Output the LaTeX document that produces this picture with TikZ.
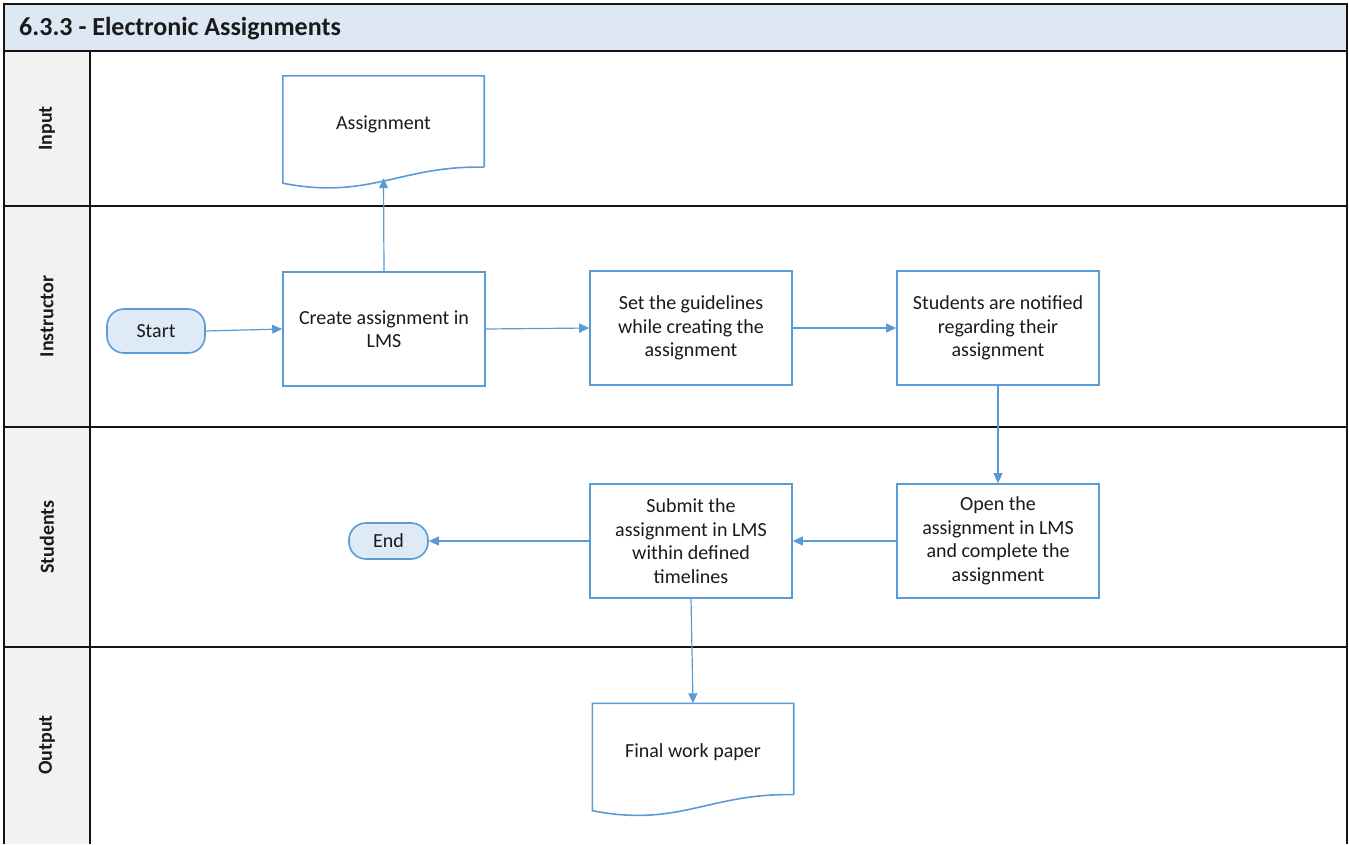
\documentclass[tikz,border=0pt]{standalone}
\usepackage{fontspec}
\setmainfont{Carlito}
\usetikzlibrary{arrows.meta,calc}
\definecolor{flowblue}{HTML}{5B9BD5}
\definecolor{termfill}{HTML}{DEEBF7}
\definecolor{titlefill}{HTML}{DDE8F4}
\definecolor{lanefill}{HTML}{F2F2F2}
\definecolor{inkc}{HTML}{1A1A1A}
\definecolor{framec}{HTML}{141414}
\begin{document}
\begin{tikzpicture}[x=1pt,y=-1pt,
  every node/.style={font=\fontsize{20}{23.5}\selectfont, text=inkc},
  stepbox/.style={draw=flowblue, line width=1.6pt, fill=white,
    minimum width=202pt, minimum height=114pt, align=center, inner sep=0pt,
    execute at begin node={\rule{0pt}{19pt}}},
  termbox/.style={draw=flowblue, line width=1.6pt, fill=termfill,
    rounded corners=17pt, inner sep=0pt},
  docbox/.style={minimum width=201pt, minimum height=91pt, align=center, inner sep=0pt,
    execute at begin node={\rule{0pt}{20pt}}},
  docline/.style={draw=flowblue, line width=1.6pt},
  lanelabel/.style={rotate=90, font=\bfseries\fontsize{20}{24}\selectfont},
  frameline/.style={draw=framec, line width=2pt},
  flow/.style={draw=flowblue, line width=1.2pt, -{Triangle[length=10pt,width=9pt]}}
]
\useasboundingbox (0,0) rectangle (1349,844);

% title band and lane label column
\fill[titlefill] (4,4) rectangle (1347,51);
\fill[lanefill] (4,51) rectangle (90,844);
\node[anchor=west, inner xsep=0pt, font=\bfseries\fontsize{26}{30}\selectfont] (title) at (19,29) {6.3.3 - Electronic Assignments};

% swimlane frame
\draw[frameline] (4,844) -- (4,4) -- (1347,4) -- (1347,844);
\draw[frameline] (4,51) -- (1347,51);
\draw[frameline] (4,206) -- (1347,206);
\draw[frameline] (4,427) -- (1347,427);
\draw[frameline] (4,647) -- (1347,647);
\draw[frameline] (90,51) -- (90,844);

% lane names
\node[lanelabel] (lin) at (47,128.5) {Input};
\node[lanelabel] (lins) at (47,316.5) {Instructor};
\node[lanelabel] (lstu) at (47,537) {Students};
\node[lanelabel] (lout) at (47,745) {Output};

% input document
\node[docbox] (asg) at (383.5,121.5) {Assignment};
\draw[docline] (asg.south east) -- (asg.north east) -- (asg.north west)
  -- ($(asg.south west)+(0,16)$)
  .. controls ($(asg.south west)+(87,33)$) and ($(asg.south east)+(-84,-2)$) .. (asg.south east);
\coordinate (asgin) at ($(asg.south)+(0,11)$);

% instructor steps
\node[termbox, minimum width=98pt, minimum height=44pt] (start) at (156,331) {Start};
\node[stepbox] (create) at (384,329) {Create assignment in\\LMS};
\node[stepbox] (guide) at (691,328) {Set the guidelines\\while creating the\\assignment};
\node[stepbox] (notify) at (998,328) {Students are notified\\regarding their\\assignment};

% student steps
\node[stepbox] (open) at (998,541) {Open the\\assignment in LMS\\and complete the\\assignment};
\node[stepbox] (submit) at (691,541) {Submit the\\assignment in LMS\\within defined\\timelines};
\node[termbox, minimum width=79pt, minimum height=36pt] (endn) at (388.5,541) {End};

% output document
\node[docbox] (final) at (693,749) {Final work paper};
\draw[docline] (final.south east) -- (final.north east) -- (final.north west)
  -- ($(final.south west)+(0,16)$)
  .. controls ($(final.south west)+(87,33)$) and ($(final.south east)+(-84,-2)$) .. (final.south east);

% connectors
\draw[flow] (start.east) -- (create.west);
\draw[flow] (create.north) -- (asgin);
\draw[flow] (create.east) -- (guide.west);
\draw[flow] (guide.east) -- (notify.west);
\draw[flow] (notify.south) -- (open.north);
\draw[flow] (open.west) -- (submit.east);
\draw[flow] (submit.west) -- (endn.east);
\draw[flow] (submit.south) -- (final.north);
\end{tikzpicture}
\end{document}
